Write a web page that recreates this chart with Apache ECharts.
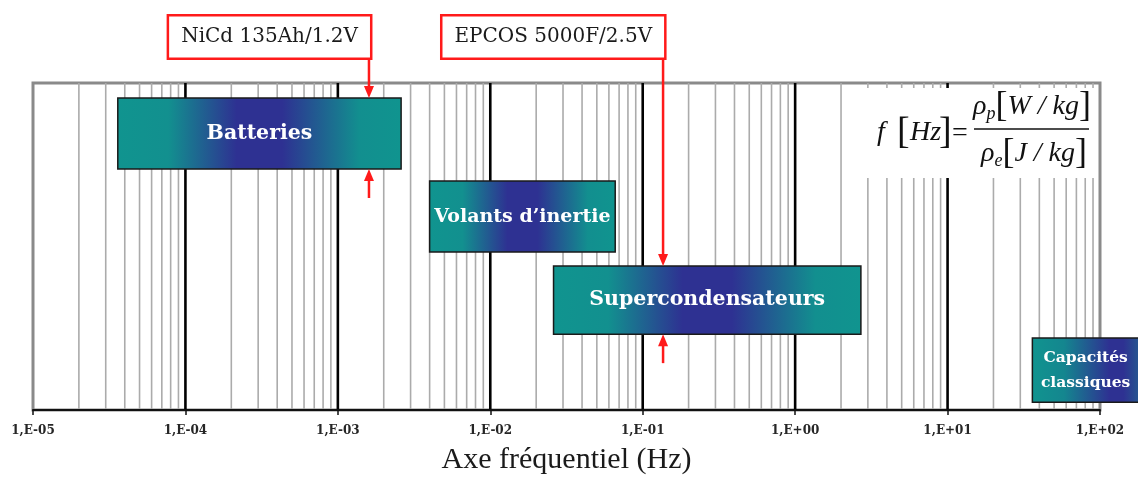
<!DOCTYPE html>
<html><head><meta charset="utf-8">
<script src="https://cdn.jsdelivr.net/npm/echarts@6/dist/echarts.min.js"></script>
<style>html,body{margin:0;padding:0;background:#fff}#c{width:1138px;height:477px}</style>
</head><body><div id="c"></div>
<script>
// ---- data ----
const technologies = ['Batteries', 'Volants d’inertie', 'Supercondensateurs', 'Capacités classiques'];
const freqMin = [3.6e-5, 4.0e-3, 2.6e-2, 36];
const freqMax = [2.6e-3, 6.6e-2, 2.7, 180];
const rowTop = [95.4, 70.0, 44.0, 22.0];
const rowBottom = [73.7, 48.3, 23.2, 2.4];
const annotations = ['NiCd 135Ah/1.2V', 'EPCOS 5000F/2.5V'];
const annotationFreq = [1.6e-3, 0.136];
const annotationRow = [0, 2];
const tickLabels = ['1,E-05', '1,E-04', '1,E-03', '1,E-02', '1,E-01', '1,E+00', '1,E+01', '1,E+02'];
const axisTitle = 'Axe fréquentiel (Hz)';

// grid lines of the log axis (decades and their 2..9 subdivisions)
const decades = [];
const minorLines = [];
for (let k = -5; k <= 1; k++) {
  if (k > -5) decades.push(Math.pow(10, k));
  for (let m = 2; m <= 9; m++) minorLines.push(m * Math.pow(10, k));
}

const TEAL = '#10948f', BLUE = '#2e3192';
function boxGradient(i) {
  if (i === 3) {
    return new echarts.graphic.LinearGradient(0, 0, 1, 0, [
      {offset: 0, color: TEAL}, {offset: 0.3, color: '#14868f'},
      {offset: 0.72, color: BLUE}, {offset: 0.85, color: BLUE}, {offset: 1, color: '#26578f'}]);
  }
  return new echarts.graphic.LinearGradient(0, 0, 1, 0, [
    {offset: 0, color: TEAL}, {offset: 0.18, color: '#12908f'},
    {offset: 0.42, color: BLUE}, {offset: 0.58, color: BLUE},
    {offset: 0.85, color: '#128f8f'}, {offset: 1, color: TEAL}]);
}

const chart = echarts.init(document.getElementById('c'), null, {renderer: 'canvas'});
chart.setOption({
  animation: false,
  grid: {left: 33, right: 38, top: 83, bottom: 67, outerBoundsMode: 'none', containLabel: false,
         show: true, borderColor: '#8a8a8a', borderWidth: 3, backgroundColor: '#fff'},
  xAxis: {
    type: 'log', logBase: 10, min: 1e-5, max: 100, interval: 1, splitNumber: 7, z: 5,
    name: axisTitle, nameLocation: 'middle', nameGap: 35,
    nameTextStyle: {fontFamily: 'Liberation Serif', fontSize: 30, color: '#1a1a1a'},
    axisLine: {show: true, lineStyle: {color: '#111', width: 2}},
    axisTick: {show: true, length: 5, lineStyle: {color: '#111', width: 1.5}},
    axisLabel: {
      margin: 15, fontFamily: 'DejaVu Serif', fontWeight: 'bold', fontSize: 12, color: '#262626',
      formatter: function (v) { return tickLabels[Math.round(Math.log10(v)) + 5]; }
    },
    splitLine: {show: false}
  },
  yAxis: {type: 'value', min: 0, max: 100, show: false},
  series: [
    {
      type: 'custom', z: 1, silent: true,
      data: minorLines.map(v => [v, 0]),
      renderItem: function (params, api) {
        const a = api.coord([api.value(0), 0]), b = api.coord([api.value(0), 100]);
        return {type: 'line', shape: {x1: a[0], y1: a[1], x2: b[0], y2: b[1]},
          style: {stroke: '#ababab', lineWidth: 1.6}};
      }
    },
    {
      type: 'custom', z: 2, silent: true,
      data: decades.map(v => [v, 0]),
      renderItem: function (params, api) {
        const a = api.coord([api.value(0), 0]), b = api.coord([api.value(0), 100]);
        return {type: 'line', shape: {x1: a[0], y1: a[1], x2: b[0], y2: b[1]},
          style: {stroke: '#000', lineWidth: 2.6}};
      }
    },
    {
      type: 'custom', z: 5, clip: false,
      data: technologies.map((t, i) => [freqMin[i], freqMax[i], rowTop[i], rowBottom[i], i]),
      encode: {x: [0, 1], y: [2, 3]},
      renderItem: function (params, api) {
        const i = api.value(4);
        const p1 = api.coord([api.value(0), api.value(2)]);
        const p2 = api.coord([api.value(1), api.value(3)]);
        const w = p2[0] - p1[0], h = p2[1] - p1[1];
        const narrow = w < 130;
        return {
          type: 'rect', shape: {x: p1[0], y: p1[1], width: w, height: h},
          style: {fill: boxGradient(i), stroke: '#1a1a1a', lineWidth: 1.5},
          textContent: {style: {
            text: narrow ? technologies[i].replace(' ', '\n') : technologies[i],
            fill: '#fff', fontFamily: 'DejaVu Serif', fontWeight: 'bold',
            fontSize: narrow ? 15.5 : (w < 200 ? 19 : 20.5), lineHeight: narrow ? 25 : 26, align: 'center'
          }},
          textConfig: {position: 'inside'}
        };
      }
    },
    {
      type: 'custom', z: 6, clip: false, silent: true,
      data: annotations.map((t, i) => [annotationFreq[i], annotationRow[i], i]),
      renderItem: function (params, api) {
        const i = api.value(2), r = api.value(1);
        const x = api.coord([api.value(0), 0])[0];
        const yTop = api.coord([0, rowTop[r]])[1];
        const yBot = api.coord([0, rowBottom[r]])[1];
        const red = '#ff1a1a';
        return {type: 'group', children: [
          {type: 'text', x: x + 1, y: 37, style: {
            text: annotations[i], align: 'right', verticalAlign: 'middle',
            fontFamily: 'DejaVu Serif', fontSize: 20, fill: '#1a1a1a',
            backgroundColor: '#fff', borderColor: red, borderWidth: 2.5, padding: [11, 12, 10, 12]}},
          {type: 'line', shape: {x1: x, y1: 60, x2: x, y2: yTop - 8}, style: {stroke: red, lineWidth: 2.5}},
          {type: 'polygon', shape: {points: [[x - 5, yTop - 12], [x + 5, yTop - 12], [x, yTop]]}, style: {fill: red}},
          {type: 'line', shape: {x1: x, y1: yBot + 29, x2: x, y2: yBot + 8}, style: {stroke: red, lineWidth: 2.5}},
          {type: 'polygon', shape: {points: [[x - 5, yBot + 12], [x + 5, yBot + 12], [x, yBot]]}, style: {fill: red}}
        ]};
      }
    }
  ],
  graphic: [
    {type: 'rect', z: 100, shape: {x: 867, y: 88, width: 230, height: 90}, style: {fill: '#fff'}},
    {type: 'text', z: 101, x: 877, y: 133, style: {text: 'f', font: 'italic 28px "Liberation Serif"', fill: '#111', verticalAlign: 'middle'}},
    {type: 'text', z: 101, x: 897, y: 133, style: {text: '[', font: '38px "Liberation Serif"', fill: '#111', verticalAlign: 'middle'}},
    {type: 'text', z: 101, x: 910, y: 133, style: {text: 'Hz', font: 'italic 28px "Liberation Serif"', fill: '#111', verticalAlign: 'middle'}},
    {type: 'text', z: 101, x: 939, y: 133, style: {text: ']', font: '38px "Liberation Serif"', fill: '#111', verticalAlign: 'middle'}},
    {type: 'text', z: 101, x: 952, y: 134, style: {text: '=', font: '28px "Liberation Serif"', fill: '#111', verticalAlign: 'middle'}},
    {type: 'line', z: 101, shape: {x1: 974, y1: 129, x2: 1089, y2: 129}, style: {stroke: '#111', lineWidth: 1.5}},
    {type: 'text', z: 101, x: 1032, y: 107, style: {
      text: '{a|ρ}{s|p}{b|[}{a|W / kg}{b|]}', align: 'center', verticalAlign: 'middle', fill: '#111',
      rich: {a: {font: 'italic 28px "Liberation Serif"', fill: '#111'},
             s: {font: 'italic 18px "Liberation Serif"', fill: '#111', padding: [14, 0, 0, 0]},
             b: {font: '36px "Liberation Serif"', fill: '#111'}}}},
    {type: 'text', z: 101, x: 1034, y: 154, style: {
      text: '{a|ρ}{s|e}{b|[}{a|J / kg}{b|]}', align: 'center', verticalAlign: 'middle', fill: '#111',
      rich: {a: {font: 'italic 28px "Liberation Serif"', fill: '#111'},
             s: {font: 'italic 18px "Liberation Serif"', fill: '#111', padding: [14, 0, 0, 0]},
             b: {font: '36px "Liberation Serif"', fill: '#111'}}}}
  ]
});
</script></body></html>
